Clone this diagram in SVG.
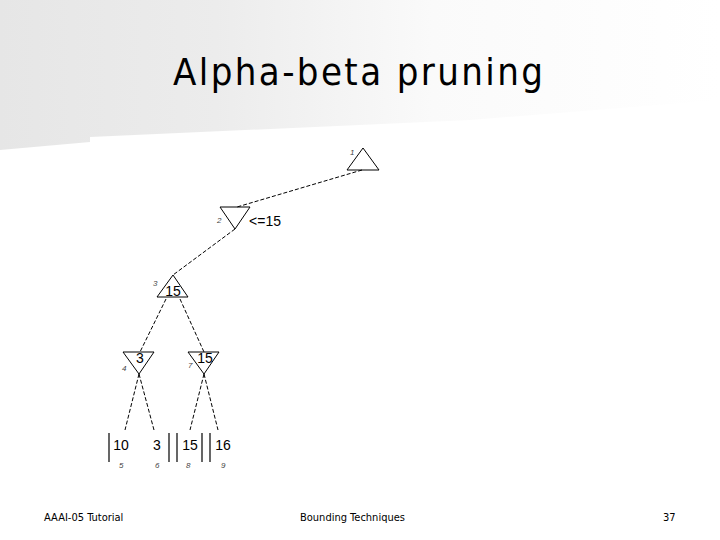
<svg xmlns="http://www.w3.org/2000/svg" width="720" height="540" viewBox="0 0 720 540">
<defs>
<linearGradient id="bg" x1="0" y1="0" x2="1" y2="0">
<stop offset="0" stop-color="#e6e6e6"/><stop offset="0.3" stop-color="#ececec"/><stop offset="0.6" stop-color="#fafafa"/><stop offset="1" stop-color="#ffffff"/>
</linearGradient>
<style>
.t{fill:none;stroke:#000;stroke-width:1}
.c{fill:none;stroke:#000;stroke-width:1;stroke-dasharray:4,2}
.v{font-family:"Liberation Sans",Arial,sans-serif;font-size:14px;fill:#000;text-anchor:middle}
.n{font-family:"Liberation Sans",Arial,sans-serif;font-size:8px;fill:#444;font-style:italic}
.f{font-family:"DejaVu Sans Condensed","DejaVu Sans",sans-serif;font-size:11px;fill:#000}
.b{stroke:#000;stroke-width:1.2}
</style>
</defs>
<rect width="720" height="540" fill="#fff"/>
<path d="M0 0H720V100L470 120L90 137V142L0 150Z" fill="url(#bg)"/>
<text x="358" y="85" font-family="DejaVu Sans Condensed,DejaVu Sans,sans-serif" font-size="38" text-anchor="middle" textLength="370">Alpha-beta pruning</text>
<g id="connectors">
<line class="c" x1="362" y1="170" x2="237" y2="207"/>
<line class="c" x1="235" y1="229" x2="173" y2="275"/>
<line class="c" x1="166" y1="299" x2="140" y2="352"/>
<line class="c" x1="180" y1="299" x2="204" y2="352"/>
<line class="c" x1="139" y1="374" x2="125" y2="430"/>
<line class="c" x1="139" y1="374" x2="154" y2="430"/>
<line class="c" x1="204" y1="374" x2="190" y2="430"/>
<line class="c" x1="204" y1="374" x2="218" y2="430"/>
</g>
<g id="n1"><path class="t" d="M363 148L379 170H347Z"/><text class="n" x="350" y="155">1</text></g>
<g id="n2"><path class="t" d="M220 207H250L235 229Z"/><text class="n" x="217" y="223">2</text><text class="v" x="265" y="226">&lt;=15</text></g>
<g id="n3"><path class="t" d="M173 275L188 297H157Z"/><text class="n" x="153" y="286">3</text><text class="v" x="173" y="296" font-size="12">15</text></g>
<g id="n4"><path class="t" d="M123 352H154L139 374Z"/><text class="n" x="122" y="371">4</text><text class="v" x="140" y="363" font-size="12">3</text></g>
<g id="n7"><path class="t" d="M188 352H219L204 374Z"/><text class="n" x="188" y="368">7</text><text class="v" x="205" y="363" font-size="12">15</text></g>
<g id="leaves">
<line class="b" x1="109" y1="433" x2="109" y2="462"/>
<text class="v" x="121" y="450" font-size="15">10</text><text class="n" x="119" y="468">5</text>
<text class="v" x="157" y="450" font-size="15">3</text><text class="n" x="155" y="468">6</text>
<line class="b" x1="169" y1="433" x2="169" y2="462"/><line class="b" x1="177" y1="433" x2="177" y2="462"/>
<text class="v" x="190" y="450" font-size="15">15</text><text class="n" x="186" y="468">8</text>
<line class="b" x1="202" y1="433" x2="202" y2="462"/><line class="b" x1="210" y1="433" x2="210" y2="462"/>
<text class="v" x="223" y="450" font-size="15">16</text><text class="n" x="221" y="468">9</text>
</g>
<text class="f" x="44" y="521">AAAI-05 Tutorial</text>
<text class="f" x="300" y="521">Bounding Techniques</text>
<text class="f" x="663" y="521">37</text>
</svg>
